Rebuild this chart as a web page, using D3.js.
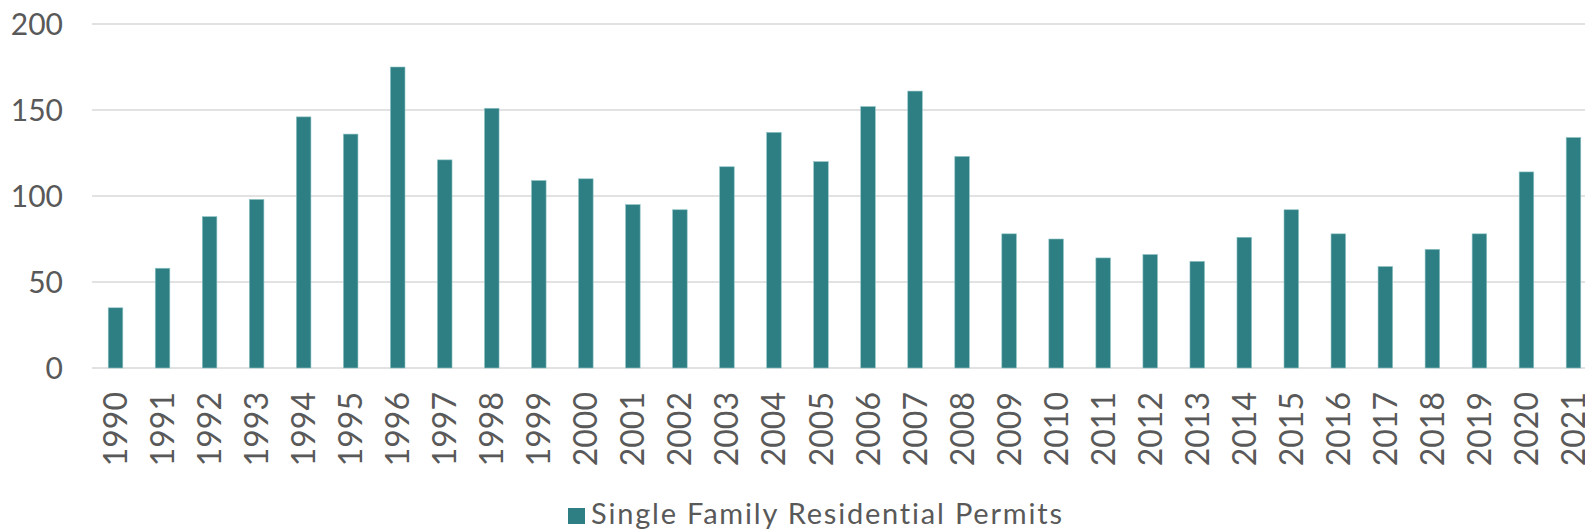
<!DOCTYPE html>
<html>
<head>
<meta charset="utf-8">
<script src="https://cdn.jsdelivr.net/npm/d3@7"></script>
<style>
  body { margin: 0; background: #fff; }
  svg { display: block; overflow: hidden; }
  text { font-family: Lato, "Noto Sans", sans-serif; fill: #595959; }
</style>
</head>
<body>
<svg id="chart"></svg>
<script>
let years = ["1990","1991","1992","1993","1994","1995","1996","1997","1998","1999",
             "2000","2001","2002","2003","2004","2005","2006","2007","2008","2009",
             "2010","2011","2012","2013","2014","2015","2016","2017","2018","2019",
             "2020","2021"];
let permits = [35, 58, 88, 98, 146, 136, 175, 121, 151, 109,
               110, 95, 92, 117, 137, 120, 152, 161, 123, 78,
               75, 64, 66, 62, 76, 92, 78, 59, 69, 78,
               114, 134];
let yTicks = [0, 50, 100, 150, 200];
let seriesName = "Single Family Residential Permits";

let width = 1585;
let height = 529;

let svg = d3.select("#chart")
    .attr("width", width)
    .attr("height", height);

// plot runs past the right edge, like the original crop
let x = d3.scaleBand()
    .domain(years)
    .range([92, 1597])
    .paddingInner(0.69)
    .paddingOuter(0.345);

let y = d3.scaleLinear()
    .domain([0, 200])
    .range([368, 24]);

// gridlines
svg.append("g")
    .selectAll("line")
    .data(yTicks)
    .enter()
    .append("line")
    .attr("x1", 92)
    .attr("x2", 1597)
    .attr("y1", d => y(d))
    .attr("y2", d => y(d))
    .attr("stroke", "#d9d9d9")
    .attr("stroke-width", 1.5);

// y labels
svg.append("g")
    .selectAll("text")
    .data(yTicks)
    .enter()
    .append("text")
    .attr("x", 63)
    .attr("y", d => y(d))
    .attr("dy", "0.36em")
    .attr("text-anchor", "end")
    .style("font-size", "30px")
    .text(d => d);

// bars
svg.append("g")
    .selectAll("rect")
    .data(permits)
    .enter()
    .append("rect")
    .attr("x", (d, i) => x(years[i]))
    .attr("width", x.bandwidth())
    .attr("y", d => y(d))
    .attr("height", d => y(0) - y(d))
    .attr("fill", "#2e7f84")
    .attr("stroke", "#8fc3c5")
    .attr("stroke-width", 0.6);

// x labels, rotated
svg.append("g")
    .selectAll("text")
    .data(years)
    .enter()
    .append("text")
    .attr("transform", d => `translate(${x(d) + x.bandwidth() / 2},392) rotate(-90)`)
    .attr("dy", "0.36em")
    .attr("text-anchor", "end")
    .style("font-size", "32px")
    .text(d => d);

// legend
let legend = svg.append("g");
legend.append("rect")
    .attr("x", 568)
    .attr("y", 508)
    .attr("width", 17)
    .attr("height", 16)
    .attr("fill", "#2e7f84");
legend.append("text")
    .attr("x", 591)
    .attr("y", 524)
    .style("font-size", "29px")
    .style("letter-spacing", "1.8px")
    .text(seriesName);
</script>
</body>
</html>
